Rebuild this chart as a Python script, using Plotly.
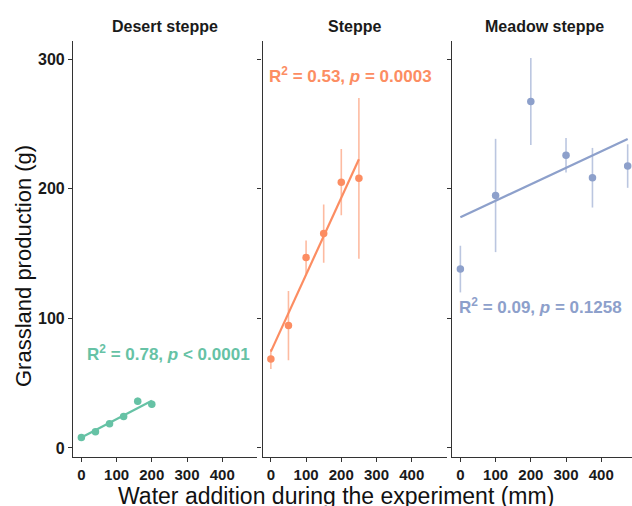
import plotly.graph_objects as go

# ---- data ----
panels = ["Desert steppe", "Steppe", "Meadow steppe"]

desert_x = [0, 40, 80, 120, 160, 200]
desert_y = [8.0, 12.4, 18.6, 24.3, 36.1, 33.8]
desert_err = [1.5, 1.5, 1.8, 2.2, 2.8, 3.0]

steppe_x = [0, 50, 100, 150, 200, 250]
steppe_y = [68.7, 94.4, 147.0, 165.4, 205.1, 208.0]
steppe_err = [7.7, 26.7, 13.0, 22.5, 25.5, 62.0]

meadow_x = [0, 100, 200, 300, 375, 475]
meadow_y = [138.0, 194.8, 267.3, 225.8, 208.5, 217.5]
meadow_err = [18.0, 43.7, 33.5, 13.3, 23.0, 16.8]

# fitted regression (intercept, slope)
desert_fit = (8.0, 0.142)
steppe_fit = (74.3, 0.594)
meadow_fit = (178.0, 0.127)

labels = ["R<sup>2</sup> = 0.78, <i>p</i> &lt; 0.0001",
          "R<sup>2</sup> = 0.53, <i>p</i> = 0.0003",
          "R<sup>2</sup> = 0.09, <i>p</i> = 0.1258"]
label_pos = [(10, 73.3), (-11, 287.7), (-10, 109.7)]

x_ticks = [0, 100, 200, 300, 400]
y_ticks = [0, 100, 200, 300]

colors = ["#66C2A5", "#FC8D62", "#8DA0CB"]
err_colors = ["rgba(102,194,165,0.6)", "rgba(252,141,98,0.6)", "rgba(141,160,203,0.6)"]

series = [(desert_x, desert_y, desert_err, desert_fit),
          (steppe_x, steppe_y, steppe_err, steppe_fit),
          (meadow_x, meadow_y, meadow_err, meadow_fit)]

W, H = 632, 506
ml, mr, mt, mb = 73, 0, 41, 49
pw = W - ml - mr
ph = H - mt - mb

def px2fx(px):
    return (px - ml) / pw

def py2fy(py):
    return (H - mb - py) / ph

domains = [[0, px2fx(257)], [px2fx(262.5), px2fx(446.5)], [px2fx(452), 1.0]]
xranges = [[-23.75, 498.75], [-23.75, 498.75], [-23.75, 487.3]]
yrange = [-7, 314]

fig = go.Figure()
font_fam = "Liberation Sans, Arial, sans-serif"

for i, (xs, ys, es, fit) in enumerate(series):
    xa = "x" if i == 0 else f"x{i+1}"
    ya = "y" if i == 0 else f"y{i+1}"
    fx = [min(xs), max(xs)]
    fy = [fit[0] + fit[1] * v for v in fx]
    fig.add_trace(go.Scatter(
        x=xs, y=ys, mode="markers", xaxis=xa, yaxis=ya, cliponaxis=False,
        marker=dict(color=colors[i], size=7.5),
        error_y=dict(type="data", array=es, visible=True, color=err_colors[i],
                     thickness=1.6, width=0),
        showlegend=False))
    fig.add_trace(go.Scatter(
        x=fx, y=fy, mode="lines", xaxis=xa, yaxis=ya,
        line=dict(color=colors[i], width=2.2), showlegend=False))
    fig.add_annotation(
        text="<b>" + labels[i] + "</b>", x=label_pos[i][0], y=label_pos[i][1],
        xref=xa, yref=ya, xanchor="left", yanchor="middle", showarrow=False,
        font=dict(family=font_fam, size=17, color=colors[i]))

axis_common = dict(showline=True, linecolor="#333333", linewidth=1.2,
                   ticks="outside", ticklen=4, tickcolor="#333333",
                   showgrid=False, zeroline=False, automargin=False)

layout = dict(width=W, height=H, margin=dict(l=ml, r=mr, t=mt, b=mb, autoexpand=False),
              plot_bgcolor="white", paper_bgcolor="white",
              font=dict(family=font_fam, color="#1a1a1a"))
for i in range(3):
    sfx = "" if i == 0 else str(i + 1)
    layout["xaxis" + sfx] = dict(
        domain=domains[i], range=xranges[i], anchor="y" + sfx,
        tickvals=x_ticks, ticktext=[str(v) for v in x_ticks],
        tickfont=dict(family=font_fam, size=15, weight="bold", color="#1a1a1a"),
        **axis_common)
    layout["yaxis" + sfx] = dict(
        domain=[0, 1], range=yrange, anchor="x" + sfx,
        tickvals=y_ticks, ticktext=[str(v) for v in y_ticks],
        showticklabels=(i == 0),
        tickfont=dict(family=font_fam, size=16, weight="bold", color="#1a1a1a"),
        **axis_common)
fig.update_layout(**layout)

strip_centers = [165, 354.5, 544]
for i, name in enumerate(panels):
    fig.add_annotation(text="<b>" + name + "</b>", x=px2fx(strip_centers[i]), y=py2fy(27),
                       xref="paper", yref="paper", xanchor="center", yanchor="middle",
                       showarrow=False, font=dict(family=font_fam, size=16, color="#1a1a1a"))

fig.add_annotation(text="Water addition during the experiment (mm)", x=px2fx(335.5), y=py2fy(496),
                   xref="paper", yref="paper", xanchor="center", yanchor="middle",
                   showarrow=False, font=dict(family=font_fam, size=23, color="#111111"))
fig.add_annotation(text="Grassland production (g)", x=px2fx(23), y=py2fy(266),
                   xref="paper", yref="paper", xanchor="center", yanchor="middle",
                   textangle=-90, showarrow=False,
                   font=dict(family=font_fam, size=22, color="#111111"))

fig.write_html("out.html", config={"displayModeBar": False},
               post_script="document.body.style.margin='0';document.body.style.overflow='hidden';")
